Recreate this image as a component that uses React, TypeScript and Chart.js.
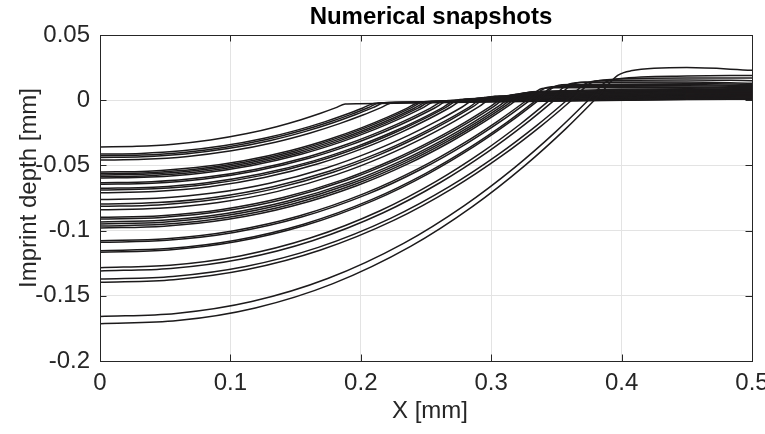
import React, { useEffect, useRef } from "react";
import { Chart, registerables } from "chart.js";

Chart.register(...registerables);

// ---- axis ticks ----
const xTicks = [0, 0.1, 0.2, 0.3, 0.4, 0.5];
const xTickLabels = ["0", "0.1", "0.2", "0.3", "0.4", "0.5"];
const yTicks = [0.05, 0, -0.05, -0.1, -0.15, -0.2];
const yTickLabels = ["0.05", "0", "-0.05", "-0.1", "-0.15", "-0.2"];

// ---- snapshots (deepest first) ----
// imprint depth at X = 0 [mm]
const depthAtCentre = [
  -0.1715, -0.1659, -0.1396, -0.1371, -0.1309, -0.1284, -0.1166, -0.1154, -0.109, -0.1077,
  -0.098, -0.0965, -0.0949, -0.0934, -0.0911, -0.0898, -0.084, -0.0814, -0.0796, -0.0762,
  -0.071, -0.0689, -0.0676, -0.0645, -0.0633, -0.0597, -0.0586, -0.0574, -0.0563, -0.0551,
  -0.0459, -0.0439, -0.0426, -0.0413, -0.0358,
];
// X where the imprint meets the rim [mm]
const contactRadius = [
  0.397, 0.388, 0.376, 0.372, 0.362, 0.358, 0.35, 0.347, 0.342, 0.339,
  0.328, 0.325, 0.322, 0.319, 0.315, 0.312, 0.303, 0.298, 0.295, 0.289,
  0.28, 0.276, 0.273, 0.267, 0.264, 0.257, 0.254, 0.251, 0.248, 0.245,
  0.224, 0.218, 0.214, 0.21, 0.188,
];
// height at the rim (X = contactRadius) [mm]
const rimHeight = [
  0.019, 0.014, 0.013, 0.0125, 0.012, 0.0115, 0.011, 0.01, 0.0095, 0.009,
  0.006, 0.0055, 0.005, 0.0045, 0.004, 0.0035, 0.003, 0.0025, 0.002, 0.0015,
  0.001, 0.0005, 0, -0.0005, -0.0005, -0.001, -0.001, -0.0012, -0.0012, -0.0015,
  -0.002, -0.002, -0.0022, -0.0025, -0.003,
];
// height just outside the rim (X = contactRadius + 0.01) [mm]
const crestHeight = [
  0.0225, 0.0165, 0.0155, 0.015, 0.014, 0.0135, 0.012, 0.011, 0.0105, 0.0095,
  0.0068, 0.0062, 0.0057, 0.0052, 0.0046, 0.004, 0.0035, 0.003, 0.0025, 0.002,
  0.0014, 0.0009, 0.0004, 0, 0, -0.0006, -0.0006, -0.0008, -0.0008, -0.001,
  -0.0016, -0.0016, -0.0018, -0.002, -0.0027,
];
// height at X = 0.45 [mm]
const midHeight = [
  0.025, 0.0185, 0.017, 0.0155, 0.014, 0.013, 0.012, 0.011, 0.0102, 0.0095,
  0.0087, 0.0082, 0.0078, 0.0074, 0.007, 0.0066, 0.0062, 0.0058, 0.0054, 0.005,
  0.0046, 0.0043, 0.0039, 0.0036, 0.0033, 0.0029, 0.0026, 0.0023, 0.002, 0.0017,
  0.0014, 0.0012, 0.001, 0.0008, 0.0005,
];
// height at X = 0.5 [mm]
const outerHeight = [
  0.023, 0.019, 0.017, 0.015, 0.013, 0.012, 0.011, 0.0105, 0.0098, 0.009,
  0.0085, 0.008, 0.0077, 0.0073, 0.007, 0.0066, 0.0062, 0.0058, 0.0055, 0.0051,
  0.0047, 0.0044, 0.004, 0.0037, 0.0034, 0.003, 0.0027, 0.0024, 0.0021, 0.0018,
  0.0016, 0.0014, 0.0012, 0.001, 0.0008,
];
// normalised imprint profile read from the snapshots (position / contactRadius, depth fraction)
const profileU = [0, 0.15, 0.3, 0.45, 0.6, 0.72, 0.82, 0.9, 0.96, 1];
const profileShape = [1, 0.987, 0.936, 0.838, 0.688, 0.527, 0.364, 0.214, 0.089, 0];

const crestOffset = 0.01;
const midX = 0.45;
const outerX = 0.5;

function curvePoints(i: number) {
  const d = depthAtCentre[i];
  const a = contactRadius[i];
  const rim = rimHeight[i];
  const pts = profileU.map((u, k) => ({ x: u * a, y: rim + (d - rim) * profileShape[k] }));
  pts.push({ x: a + crestOffset, y: crestHeight[i] });
  if (a + crestOffset < midX - 0.01) pts.push({ x: midX, y: midHeight[i] });
  pts.push({ x: outerX, y: outerHeight[i] });
  return pts;
}

const FONT = '"Liberation Sans", Arial, Helvetica, sans-serif';
const AXIS_COLOR = "#262626";

const framePlugin = {
  id: "matlabFrame",
  afterDraw(chart: any) {
    const { ctx, chartArea } = chart;
    const { left, top, right, bottom } = chartArea;
    const xs = chart.scales.x;
    const ys = chart.scales.y;
    ctx.save();
    ctx.strokeStyle = AXIS_COLOR;
    ctx.lineWidth = 1;
    ctx.strokeRect(Math.round(left) + 0.5, Math.round(top) + 0.5, Math.round(right - left), Math.round(bottom - top));
    const tl = 6.5;
    ctx.beginPath();
    xTicks.forEach((v) => {
      const px = Math.round(xs.getPixelForValue(v)) + 0.5;
      ctx.moveTo(px, bottom);
      ctx.lineTo(px, bottom - tl);
      ctx.moveTo(px, top);
      ctx.lineTo(px, top + tl);
    });
    yTicks.forEach((v) => {
      const py = Math.round(ys.getPixelForValue(v)) + 0.5;
      ctx.moveTo(left, py);
      ctx.lineTo(left + tl, py);
      ctx.moveTo(right, py);
      ctx.lineTo(right - tl, py);
    });
    ctx.stroke();

    ctx.fillStyle = "#000";
    ctx.textAlign = "center";
    ctx.textBaseline = "middle";
    ctx.font = `bold 24px ${FONT}`;
    ctx.fillText("Numerical snapshots", 431, 17);

    ctx.fillStyle = AXIS_COLOR;
    ctx.font = `24px ${FONT}`;
    ctx.fillText("X [mm]", 430, 411);

    ctx.translate(29, 188);
    ctx.rotate(-Math.PI / 2);
    ctx.fillText("Imprint depth [mm]", 0, 0);
    ctx.restore();
  },
};

export default function App() {
  const ref = useRef<HTMLCanvasElement | null>(null);

  useEffect(() => {
    if (!ref.current) return;
    const datasets = depthAtCentre.map((_, i) => ({
      label: `snapshot ${i + 1}`,
      data: curvePoints(i),
      borderColor: "#1c1a1b",
      borderWidth: 1.5,
      pointRadius: 0,
      fill: false,
      tension: 0.4,
      cubicInterpolationMode: "monotone" as const,
    }));

    const chart = new Chart(ref.current, {
      type: "line",
      data: { datasets },
      plugins: [framePlugin],
      options: {
        responsive: false,
        animation: false,
        devicePixelRatio: 1,
        layout: { padding: { left: 0, top: 35, right: 13, bottom: 0 } },
        plugins: {
          legend: { display: false },
          title: { display: false },
          tooltip: { enabled: false },
        },
        scales: {
          x: {
            type: "linear",
            min: 0,
            max: 0.5,
            afterBuildTicks: (s: any) => {
              s.ticks = xTicks.map((v) => ({ value: v }));
            },
            afterFit: (s: any) => {
              s.height = 73;
              s.paddingLeft = 0;
              s.paddingRight = 0;
            },
            grid: { color: "#e3e3e3", lineWidth: 1, drawTicks: false },
            border: { display: false },
            ticks: {
              padding: 8,
              maxRotation: 0,
              autoSkip: false,
              color: AXIS_COLOR,
              font: { family: FONT, size: 24 },
              callback: (v: any) => {
                const i = xTicks.findIndex((t) => Math.abs(t - Number(v)) < 1e-9);
                return i >= 0 ? xTickLabels[i] : "";
              },
            },
          },
          y: {
            type: "linear",
            min: -0.2,
            max: 0.05,
            afterBuildTicks: (s: any) => {
              s.ticks = yTicks.map((v) => ({ value: v }));
            },
            afterFit: (s: any) => {
              s.width = 100;
              s.paddingTop = 0;
              s.paddingBottom = 0;
            },
            grid: { color: "#e3e3e3", lineWidth: 1, drawTicks: false },
            border: { display: false },
            ticks: {
              padding: 10,
              autoSkip: false,
              color: AXIS_COLOR,
              font: { family: FONT, size: 24 },
              callback: (v: any) => {
                const i = yTicks.findIndex((t) => Math.abs(t - Number(v)) < 1e-9);
                return i >= 0 ? yTickLabels[i] : "";
              },
            },
          },
        },
      },
    });
    return () => chart.destroy();
  }, []);

  return (
    <div style={{ position: "absolute", left: 0, top: 0, width: 765, height: 434, background: "#fff" }}>
      <canvas ref={ref} width={765} height={434} style={{ width: 765, height: 434, display: "block" }} />
    </div>
  );
}
